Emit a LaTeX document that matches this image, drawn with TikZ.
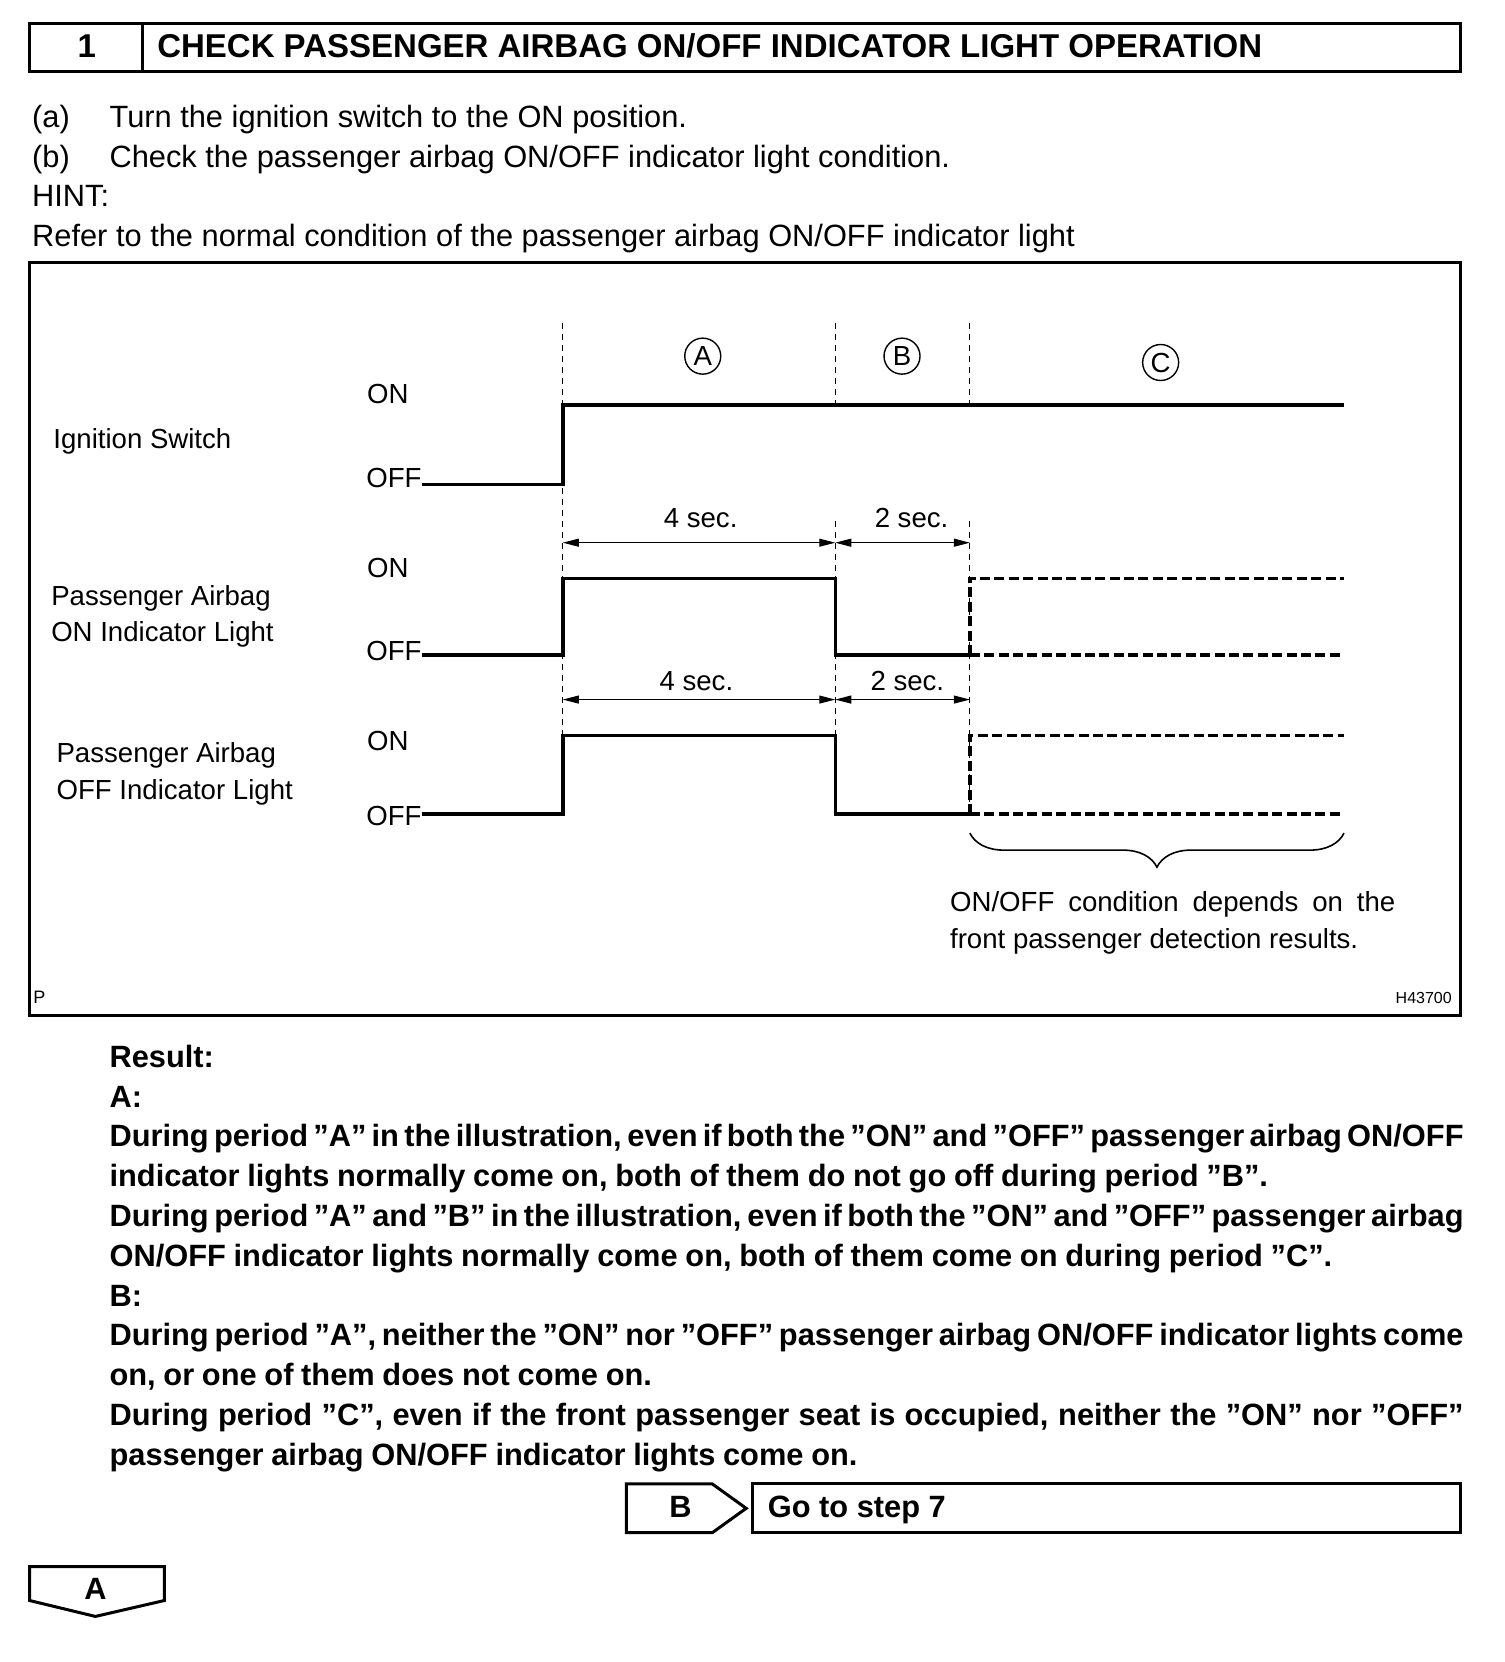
\documentclass[tikz,border=0pt]{standalone}
\usepackage{fontspec}
\setmainfont{Liberation Sans}
\usetikzlibrary{positioning}
\usetikzlibrary{shapes,decorations.pathreplacing,calc,arrows.meta}

\begin{document}
\begin{tikzpicture}[x=0.53pt,y=-0.53pt,>={Triangle[length=8pt,width=4pt]},
  box/.style={line width=1.5pt},
  sig/.style={line width=1.7pt},
  sigdash/.style={line width=1.7pt,dash pattern=on 5pt off 2.2pt},
  guide/.style={line width=0.5pt,dash pattern=on 3pt off 2.5pt},
  dim/.style={<->,line width=0.5pt},
  txt/.style={inner sep=0pt,anchor=base west,font=\fontsize{15.4}{19.9}\selectfont},
  bld/.style={inner sep=0pt,anchor=base west,font=\fontsize{15.4}{19.9}\selectfont\bfseries},
  lbl/.style={inner sep=0pt,anchor=base west,font=\fontsize{13.8}{17}\selectfont},
  tlbl/.style={inner sep=0pt,anchor=base,font=\fontsize{13.8}{17}\selectfont},
  circ/.style={circle,draw,line width=0.7pt,inner sep=0pt,minimum size=18pt,font=\fontsize{13.8}{17}\selectfont}]
  \useasboundingbox (0,0) rectangle (1419,1568);

  \draw[box] (28,22) rectangle (1378,67);
  \draw[box] (134,22) -- (134,67);
  \node[bld,anchor=base] (num) at (82,54) {\fontsize{16.5}{20}\selectfont 1};
  \node[bld] (title) at (148,54) {\fontsize{16.5}{20}\selectfont CHECK PASSENGER AIRBAG ON/OFF INDICATOR LIGHT OPERATION};

  \node[txt] (ia) at (30,120) {(a)};
  \node[txt] (ta) at (103,120) {Turn the ignition switch to the ON position.};
  \node[txt] (ib) at (30,158) {(b)};
  \node[txt] (tb) at (103,158) {Check the passenger airbag ON/OFF indicator light condition.};
  \node[txt] (hint) at (30,195) {HINT:};
  \node[txt] (refer) at (30,233) {Refer to the normal condition of the passenger airbag ON/OFF indicator light};

  \draw[box] (28,248) rectangle (1378,958);

  \draw[guide] (531,305) -- (531,768);
  \draw[guide] (788,305) -- (788,380);
  \draw[guide] (915,305) -- (915,380);
  \draw[guide] (788,492) -- (788,768);
  \draw[guide] (915,492) -- (915,768);

  \node[circ] (pa) at (663,336) {A};
  \node[circ] (pb) at (851,336) {B};
  \node[circ] (pc) at (1095,342) {C};

  \node[lbl] (ign) at (50,423) {Ignition Switch};
  \node[lbl] (ignon) at (346,381) {ON};
  \coordinate (i0) at (398,457);
  \node[lbl,anchor=base east] (ignoff) at (398,460) {OFF};
  \draw[sig] (i0) -- (531,457) -- (531,382) -- (1268,382);

  \coordinate (da) at (531,512);
  \coordinate (db) at (788,512);
  \coordinate (dc) at (915,512);
  \draw[dim] (da) -- (db);
  \draw[dim] (db) -- (dc);
  \node[tlbl] (sa) at (661,498) {4 sec.};
  \node[tlbl] (sb) at (860,498) {2 sec.};

  \node[lbl] (onl1) at (48,571) {Passenger Airbag};
  \node[lbl] (onl2) at (48,605) {ON Indicator Light};
  \node[lbl] (onon) at (346,545) {ON};
  \coordinate (n0) at (398,618);
  \node[lbl,anchor=base east] (onoff) at (398,623) {OFF};
  \draw[sig] (n0) -- (531,618) -- (531,546) -- (788,546) -- (788,618) -- (915,618);
  \draw[sigdash] (915,618) -- (915,546) -- (1268,546);
  \draw[sigdash] (915,618) -- (1268,618);

  \coordinate (ea) at (531,660);
  \coordinate (eb) at (788,660);
  \coordinate (ec) at (915,660);
  \draw[dim] (ea) -- (eb);
  \draw[dim] (eb) -- (ec);
  \node[tlbl] (sc) at (657,651) {4 sec.};
  \node[tlbl] (sd) at (856,651) {2 sec.};

  \node[lbl] (offl1) at (53,719) {Passenger Airbag};
  \node[lbl] (offl2) at (53,754) {OFF Indicator Light};
  \node[lbl] (offon) at (346,708) {ON};
  \coordinate (f0) at (398,768);
  \node[lbl,anchor=base east] (offoff) at (398,779) {OFF};
  \draw[sig] (f0) -- (531,768) -- (531,694) -- (788,694) -- (788,768) -- (915,768);
  \draw[sigdash] (915,768) -- (915,694) -- (1268,694);
  \draw[sigdash] (915,768) -- (1268,768);

  \coordinate (bl) at (915,786);
  \coordinate (br) at (1268,786);
  \draw[line width=0.8pt,decorate,decoration={brace,mirror,amplitude=17pt}] (bl) -- (br);
  \node[lbl] (note) at (896,860) {\parbox[t]{222.6pt}{\baselineskip=18.5pt ON/OFF condition depends on the\linebreak front passenger detection results.}};

  \node[inner sep=0pt,anchor=base west,font=\fontsize{9}{10}\selectfont] (p) at (31,947) {P};
  \node[inner sep=0pt,anchor=base east,font=\fontsize{8}{10}\selectfont] (code) at (1370,947) {H43700};

  \node[bld] (result) at (103,1007) {\parbox[t]{677pt}{\baselineskip=19.9pt
    \spaceskip=0.25em plus 0.6em minus 0.12em
    Result:\\
    A:\\
    During period ”A” in the illustration, even if both the ”ON” and ”OFF” passenger airbag ON/OFF\linebreak
    indicator lights normally come on, both of them do not go off during period ”B”.\\
    During period ”A” and ”B” in the illustration, even if both the ”ON” and ”OFF” passenger airbag\linebreak
    ON/OFF indicator lights normally come on, both of them come on during period ”C”.\\
    B:\\
    During period ”A”, neither the ”ON” nor ”OFF” passenger airbag ON/OFF indicator lights come\linebreak
    on, or one of them does not come on.\\
    During period ”C”, even if the front passenger seat is occupied, neither the ”ON” nor ”OFF”\linebreak
    passenger airbag ON/OFF indicator lights come on.}};

  \draw[box] (591,1400) -- (672,1400) -- (704,1423) -- (672,1446) -- (591,1446) -- cycle;
  \node[bld,anchor=base] (gob) at (642,1432) {B};
  \draw[box] (710,1400) rectangle (1378,1446);
  \node[bld] (step) at (724,1432) {Go to step 7};

  \draw[box] (28,1478) -- (155,1478) -- (155,1510) -- (90,1525) -- (28,1510) -- cycle;
  \node[bld,anchor=base] (goa) at (90,1509) {A};
\end{tikzpicture}
\end{document}
